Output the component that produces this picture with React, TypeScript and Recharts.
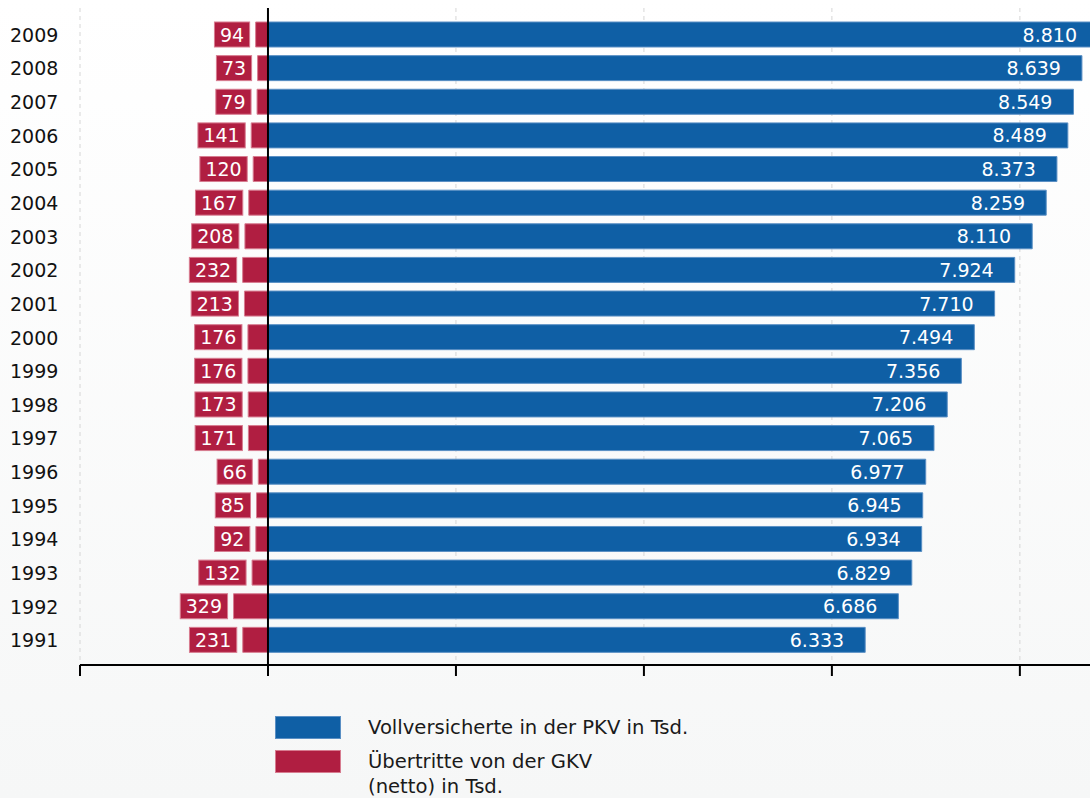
import { ComposedChart, Bar, XAxis, YAxis, CartesianGrid, ReferenceLine, LabelList, Rectangle } from 'recharts'

const years = ['2009', '2008', '2007', '2006', '2005', '2004', '2003', '2002', '2001', '2000', '1999', '1998', '1997', '1996', '1995', '1994', '1993', '1992', '1991']
const pkvValues = [8810, 8639, 8549, 8489, 8373, 8259, 8110, 7924, 7710, 7494, 7356, 7206, 7065, 6977, 6945, 6934, 6829, 6686, 6333]
const gkvValues = [94, 73, 79, 141, 120, 167, 208, 232, 213, 176, 176, 173, 171, 66, 85, 92, 132, 329, 231]
const xTicks = [-2000, 0, 2000, 4000, 6000, 8000]

const BLUE = '#0f5fa5'
const RED = '#b01e41'
const FONT = "'DejaVu Sans', Verdana, sans-serif"

const data = years.map((year, i) => ({ year, pkv: pkvValues[i], gkv: -gkvValues[i] }))

function fmt(v: number) {
  const n = Math.abs(v)
  if (n < 1000) return String(n)
  return Math.floor(n / 1000) + '.' + String(n % 1000).padStart(3, '0')
}

function YearTick({ y, payload }: any) {
  return (
    <text x={10} y={y} dy={7} fontSize={19} fontFamily={FONT} fill="#111">
      {payload.value}
    </text>
  )
}

// bars in the original are drawn a little past their value (border)
function GkvShape(props: any) {
  const { x, width } = props
  const left = Math.min(x, x + width)
  const right = Math.max(x, x + width)
  return <Rectangle {...props} x={left - 3.5} width={right - left + 3.5} />
}

function PkvShape(props: any) {
  const { x, width } = props
  const left = Math.min(x, x + width)
  const right = Math.max(x, x + width)
  return <Rectangle {...props} x={left} width={right - left + 2} />
}

function PkvLabel({ x, y, width, height, value }: any) {
  const right = Math.max(x, x + width)
  return (
    <text
      x={right - 19}
      y={y + height / 2}
      dy={7}
      textAnchor="end"
      fontSize={19}
      fontFamily={FONT}
      fill="#fff"
    >
      {fmt(value)}
    </text>
  )
}

function GkvLabel({ x, y, width, height, value }: any) {
  const left = Math.min(x, x + width)
  const txt = fmt(value)
  const w = txt.length * 12.1 + 11
  const r = left - 3.5 - 6
  return (
    <g>
      <rect x={r - w} y={y} width={w} height={height} fill={RED} stroke="#d77c90" strokeWidth={1} />
      <text
        x={r - w / 2}
        y={y + height / 2}
        dy={7}
        textAnchor="middle"
        fontSize={19}
        fontFamily={FONT}
        fill="#fff"
      >
        {txt}
      </text>
    </g>
  )
}

export default function App() {
  return (
    <div
      style={{
        position: 'fixed',
        left: 0,
        top: 0,
        width: 1090,
        height: 798,
        overflow: 'hidden',
        background: 'linear-gradient(#ffffff, #f6f7f7)',
        fontFamily: FONT,
      }}
    >
      <ComposedChart
        width={1100}
        height={690}
        data={data}
        layout="vertical"
        stackOffset="sign"
        barSize={25}
        margin={{ top: 8, right: 4, bottom: 5, left: 0 }}
      >
        <CartesianGrid horizontal={false} stroke="#d6d6d6" strokeDasharray="4 4" />
        <XAxis
          type="number"
          domain={[-2000, 8810]}
          ticks={xTicks}
          height={20}
          stroke="#000"
          strokeWidth={2}
          tickSize={11}
          tickLine={{ stroke: '#000', strokeWidth: 2 }}
          tick={() => <g />}
        />
        <YAxis
          type="category"
          dataKey="year"
          width={80}
          axisLine={false}
          tickLine={false}
          padding={{ top: 10, bottom: 8 }}
          tick={<YearTick />}
        />
        <Bar dataKey="gkv" stackId="s" fill={RED} stroke="#d77c90" strokeWidth={1} shape={GkvShape} isAnimationActive={false}>
          <LabelList dataKey="gkv" content={<GkvLabel />} />
        </Bar>
        <Bar dataKey="pkv" stackId="s" fill={BLUE} stroke="#5a8fc4" strokeWidth={1} shape={PkvShape} isAnimationActive={false}>
          <LabelList dataKey="pkv" content={<PkvLabel />} />
        </Bar>
        <ReferenceLine x={0} stroke="#000" strokeWidth={2} />
      </ComposedChart>
      <div style={{ position: 'absolute', left: 275, top: 716, fontSize: 19.6, color: '#1a1a1a', lineHeight: '25px' }}>
        <div style={{ display: 'flex', alignItems: 'flex-start', height: 34 }}>
          <div style={{ width: 66, height: 23, background: BLUE, border: '1px solid #5a8fc4', boxSizing: 'border-box' }} />
          <div style={{ marginLeft: 27, marginTop: -1 }}>Vollversicherte in der PKV in Tsd.</div>
        </div>
        <div style={{ display: 'flex', alignItems: 'flex-start' }}>
          <div style={{ width: 66, height: 23, background: RED, border: '1px solid #d77c90', boxSizing: 'border-box' }} />
          <div style={{ marginLeft: 27, marginTop: -1 }}>
            Übertritte von der GKV
            <br />
            (netto) in Tsd.
          </div>
        </div>
      </div>
    </div>
  )
}
